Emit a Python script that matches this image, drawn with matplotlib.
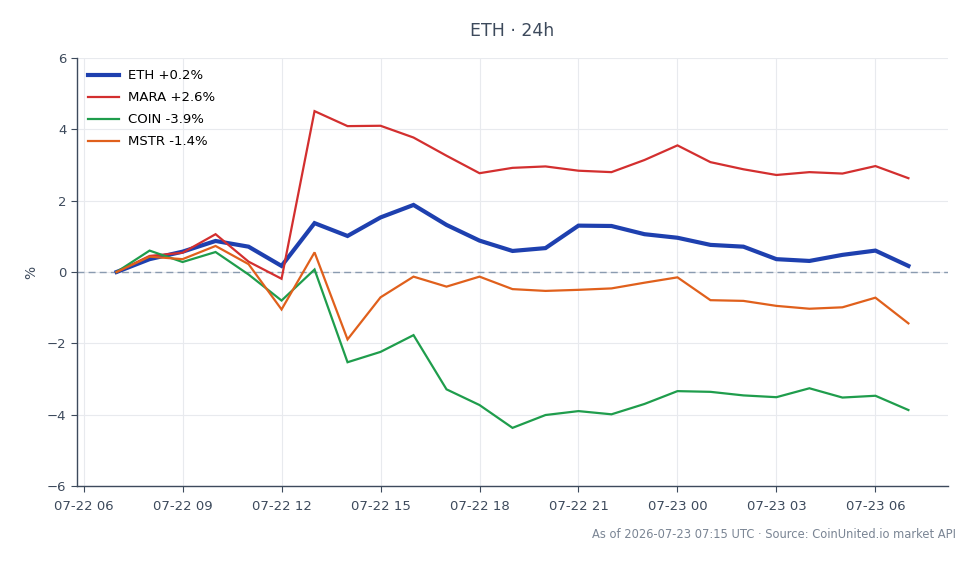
import matplotlib
matplotlib.use("Agg")
import matplotlib.pyplot as plt
import matplotlib.dates as mdates
import pandas as pd

times = pd.date_range("2026-07-22 07:00", "2026-07-23 07:00", freq="h")

eth = [0.0, 0.36, 0.57, 0.87, 0.71, 0.17, 1.37, 1.01, 1.53, 1.88, 1.32, 0.88, 0.59,
       0.67, 1.30, 1.29, 1.06, 0.96, 0.76, 0.71, 0.36, 0.31, 0.48, 0.60, 0.17]
mara = [0.0, 0.45, 0.54, 1.06, 0.29, -0.19, 4.51, 4.09, 4.10, 3.77, 3.26, 2.77, 2.92,
        2.96, 2.84, 2.80, 3.14, 3.55, 3.08, 2.88, 2.72, 2.80, 2.76, 2.97, 2.63]
coin = [0.0, 0.60, 0.28, 0.56, -0.07, -0.80, 0.07, -2.53, -2.24, -1.77, -3.29, -3.73, -4.37,
        -4.01, -3.90, -3.99, -3.70, -3.34, -3.36, -3.46, -3.51, -3.26, -3.52, -3.47, -3.87]
mstr = [0.0, 0.43, 0.36, 0.73, 0.22, -1.05, 0.55, -1.89, -0.71, -0.13, -0.41, -0.13, -0.48,
        -0.53, -0.50, -0.46, -0.30, -0.15, -0.79, -0.81, -0.95, -1.03, -0.99, -0.72, -1.44]

series = [
    ("ETH +0.2%", eth, "#1e40af", 3.0),
    ("MARA +2.6%", mara, "#d32f2f", 1.6),
    ("COIN -3.9%", coin, "#1f9d4c", 1.6),
    ("MSTR -1.4%", mstr, "#e0601c", 1.6),
]

title = "ETH · 24h"
footer = "As of 2026-07-23 07:15 UTC · Source: CoinUnited.io market API"

text_color = "#3d4a5c"
plt.rcParams["font.family"] = ["DejaVu Sans"]

fig = plt.figure(figsize=(9.8, 5.64), dpi=100)
ax = fig.add_axes([77/980, 1-486/564, (948-77)/980, (486-58)/564])

for label, vals, color, lw in series:
    ax.plot(times, vals, color=color, lw=lw, label=label, solid_joinstyle="miter")

ax.axhline(0, color="#8a9bb0", lw=1.0, ls=(0, (5, 3)), zorder=1)

ax.set_ylim(-6, 6)
ax.set_yticks([-6, -4, -2, 0, 2, 4, 6])
ax.margins(x=0.05)
ax.xaxis.set_major_locator(mdates.HourLocator(byhour=[0, 3, 6, 9, 12, 15, 18, 21]))
ax.xaxis.set_major_formatter(mdates.DateFormatter("%m-%d %H"))

ax.grid(True, color="#e8eaee", lw=0.8)
ax.set_axisbelow(True)
for s in ["top", "right"]:
    ax.spines[s].set_visible(False)
for s in ["left", "bottom"]:
    ax.spines[s].set_color("#3d4a5c")
    ax.spines[s].set_linewidth(1.0)
ax.tick_params(colors=text_color, labelsize=9.5, length=4, width=0.8)
ax.tick_params(axis="x", pad=6)

ax.set_ylabel("%", color=text_color, fontsize=10, labelpad=6)

leg = ax.legend(loc="upper left", frameon=False, fontsize=9.5, handlelength=2.3,
                handletextpad=0.75, labelspacing=0.68, borderaxespad=0.45,
                bbox_to_anchor=(0.0, 1.0))

fig.text(512/980, 1-31/564, title, ha="center", va="center", fontsize=12.5, color=text_color)
fig.text(956/980, 1-534/564, footer, ha="right", va="center", fontsize=8.3, color="#7a8594")

fig.savefig("out.png", dpi=100)
